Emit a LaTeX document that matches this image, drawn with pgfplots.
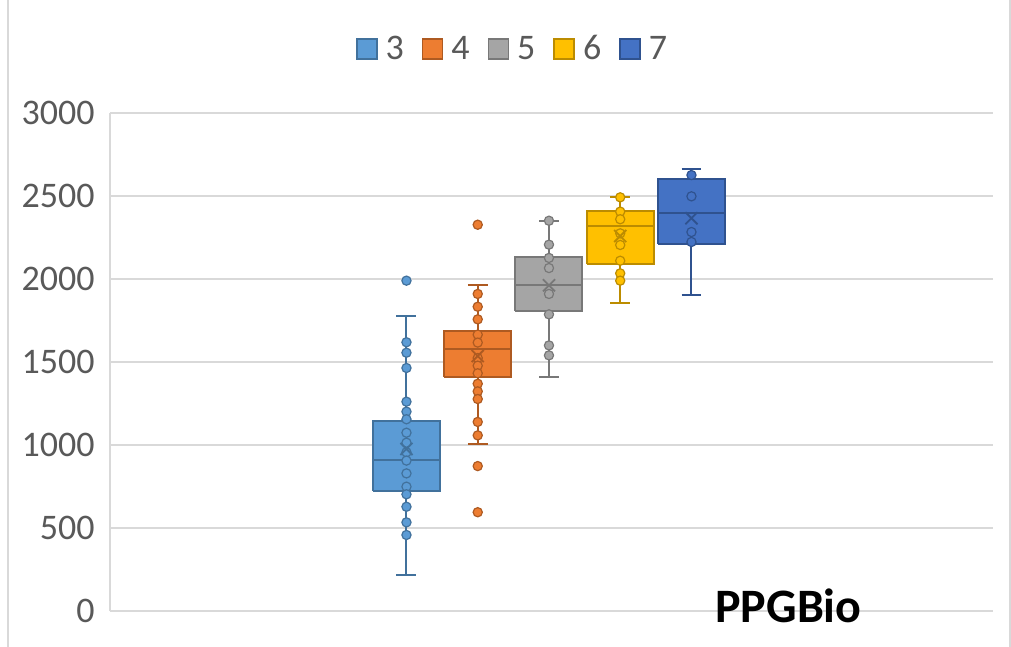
\documentclass[border=0pt]{standalone}
\usepackage{fontspec}
\setmainfont{Carlito}
\usepackage{pgfplots}
\pgfplotsset{compat=1.18}
\definecolor{c3}{HTML}{5B9BD5}\definecolor{c3d}{HTML}{41719C}
\definecolor{c4}{HTML}{ED7D31}\definecolor{c4d}{HTML}{AE5A21}
\definecolor{c5}{HTML}{A5A5A5}\definecolor{c5d}{HTML}{787878}
\definecolor{c6}{HTML}{FFC000}\definecolor{c6d}{HTML}{BC8C00}
\definecolor{c7}{HTML}{4472C4}\definecolor{c7d}{HTML}{2F528F}
\definecolor{gridc}{HTML}{D9D9D9}
\definecolor{tcol}{HTML}{595959}
\pgfplotsset{
  boxs/.style={line width=1pt, forget plot},
  pts/.style={only marks, mark=*, mark size=2.3pt, forget plot},
  avg/.style={only marks, mark=x, mark size=4.3pt, forget plot},
}
\begin{document}
\begin{tikzpicture}
\useasboundingbox[fill=white] (0,0) rectangle (505.5pt,323.5pt);
\draw[gridc, line width=0.8pt] (4pt,0) -- (4pt,323.5pt);
\draw[gridc, line width=0.8pt] (505pt,0) -- (505pt,323.5pt);
\begin{axis}[
  at={(55pt,18pt)}, anchor=south west,
  scale only axis, width=441.5pt, height=249pt,
  xmin=-3.161, xmax=9.232, ymin=0, ymax=3000,
  xtick=\empty, ytick={0,500,1000,1500,2000,2500,3000},
  ymajorgrids, grid style={gridc, line width=0.8pt},
  axis line style={gridc, line width=0.8pt},
  axis x line*=bottom, axis y line*=left,
  major tick length=0pt,
  yticklabel style={font=\fontsize{18}{20}\selectfont, text=tcol, inner sep=0pt, xshift=-7.5pt},
  /pgf/number format/assume math mode=true,
  /pgf/number format/1000 sep={},
  clip=false,
  legend style={at={(0.457,1.128)}, anchor=center, draw=none, fill=none,
    legend columns=-1, font=\fontsize{18}{20}\selectfont, text=tcol,
    /tikz/every odd column/.append style={column sep=2pt},
    /tikz/every even column/.append style={column sep=7pt}},
  legend image code/.code={\draw[#1, line width=0.8pt] (0pt,-5pt) rectangle (10pt,5pt);},
]
% ---- series 3 (position 1)
\addplot[boxs, draw=c3d] coordinates {(1,1145)(1,1779)};
\addplot[boxs, draw=c3d] coordinates {(1,725)(1,217)};
\addplot[boxs, draw=c3d] coordinates {(0.86,1779)(1.14,1779)};
\addplot[boxs, draw=c3d] coordinates {(0.86,217)(1.14,217)};
\addplot[boxs, draw=c3d, fill=c3] coordinates {(0.53,725)(1.47,725)(1.47,1145)(0.53,1145)(0.53,725)};
\addplot[boxs, draw=c3d] coordinates {(0.53,911)(1.47,911)};
\addplot[pts, mark options={fill=c3, draw=c3d, line width=0.6pt}] coordinates {
(1,1990)(1,1619)(1,1556)(1,1464)(1,1261)(1,1201)(1,1155)(1,1074)(1,1014)(1,956)(1,906)(1,829)(1,749)(1,703)(1,628)(1,534)(1,458)};
\addplot[avg, mark options={draw=c3d, line width=0.9pt}] coordinates {(1,976)};
% ---- series 4 (position 2)
\addplot[boxs, draw=c4d] coordinates {(2,1689)(2,1964)};
\addplot[boxs, draw=c4d] coordinates {(2,1408)(2,1004)};
\addplot[boxs, draw=c4d] coordinates {(1.86,1964)(2.14,1964)};
\addplot[boxs, draw=c4d] coordinates {(1.86,1004)(2.14,1004)};
\addplot[boxs, draw=c4d, fill=c4] coordinates {(1.53,1408)(2.47,1408)(2.47,1689)(1.53,1689)(1.53,1408)};
\addplot[boxs, draw=c4d] coordinates {(1.53,1580)(2.47,1580)};
\addplot[pts, mark options={fill=c4, draw=c4d, line width=0.6pt}] coordinates {
(2,2327)(2,1910)(2,1833)(2,1757)(2,1665)(2,1617)(2,1524)(2,1478)(2,1432)(2,1369)(2,1323)(2,1277)(2,1139)(2,1058)(2,873)(2,595)};
\addplot[avg, mark options={draw=c4d, line width=0.9pt}] coordinates {(2,1536)};
% ---- series 5 (position 3)
\addplot[boxs, draw=c5d] coordinates {(3,2134)(3,2351)};
\addplot[boxs, draw=c5d] coordinates {(3,1809)(3,1408)};
\addplot[boxs, draw=c5d] coordinates {(2.86,2351)(3.14,2351)};
\addplot[boxs, draw=c5d] coordinates {(2.86,1408)(3.14,1408)};
\addplot[boxs, draw=c5d, fill=c5] coordinates {(2.53,1809)(3.47,1809)(3.47,2134)(2.53,2134)(2.53,1809)};
\addplot[boxs, draw=c5d] coordinates {(2.53,1966)(3.47,1966)};
\addplot[pts, mark options={fill=c5, draw=c5d, line width=0.6pt}] coordinates {
(3,2351)(3,2207)(3,2127)(3,2066)(3,1910)(3,1787)(3,1600)(3,1540)};
\addplot[avg, mark options={draw=c5d, line width=0.9pt}] coordinates {(3,1962)};
% ---- series 6 (position 4)
\addplot[boxs, draw=c6d] coordinates {(4,2412)(4,2492)};
\addplot[boxs, draw=c6d] coordinates {(4,2090)(4,1857)};
\addplot[boxs, draw=c6d] coordinates {(3.86,2492)(4.14,2492)};
\addplot[boxs, draw=c6d] coordinates {(3.86,1857)(4.14,1857)};
\addplot[boxs, draw=c6d, fill=c6] coordinates {(3.53,2090)(4.47,2090)(4.47,2412)(3.53,2412)(3.53,2090)};
\addplot[boxs, draw=c6d] coordinates {(3.53,2321)(4.47,2321)};
\addplot[pts, mark options={fill=c6, draw=c6d, line width=0.6pt}] coordinates {
(4,2492)(4,2406)(4,2360)(4,2275)(4,2205)(4,2110)(4,2034)(4,1990)};
\addplot[avg, mark options={draw=c6d, line width=0.9pt}] coordinates {(4,2259)};
% ---- series 7 (position 5)
\addplot[boxs, draw=c7d] coordinates {(5,2602)(5,2663)};
\addplot[boxs, draw=c7d] coordinates {(5,2211)(5,1904)};
\addplot[boxs, draw=c7d] coordinates {(4.86,2663)(5.14,2663)};
\addplot[boxs, draw=c7d] coordinates {(4.86,1904)(5.14,1904)};
\addplot[boxs, draw=c7d, fill=c7] coordinates {(4.53,2211)(5.47,2211)(5.47,2602)(4.53,2602)(4.53,2211)};
\addplot[boxs, draw=c7d] coordinates {(4.53,2399)(5.47,2399)};
\addplot[pts, mark options={fill=c7, draw=c7d, line width=0.6pt}] coordinates {
(5,2626)(5,2498)(5,2283)(5,2223)};
\addplot[avg, mark options={draw=c7d, line width=0.9pt}] coordinates {(5,2366)};
% ---- legend
\addlegendimage{fill=c3, draw=c3d}\addlegendentry{3}
\addlegendimage{fill=c4, draw=c4d}\addlegendentry{4}
\addlegendimage{fill=c5, draw=c5d}\addlegendentry{5}
\addlegendimage{fill=c6, draw=c6d}\addlegendentry{6}
\addlegendimage{fill=c7, draw=c7d}\addlegendentry{7}
\end{axis}
\node[anchor=base west, font=\bfseries\fontsize{24}{28}\selectfont, inner sep=0pt] at (357.5pt,12pt) {PPGBio};
\end{tikzpicture}
\end{document}
